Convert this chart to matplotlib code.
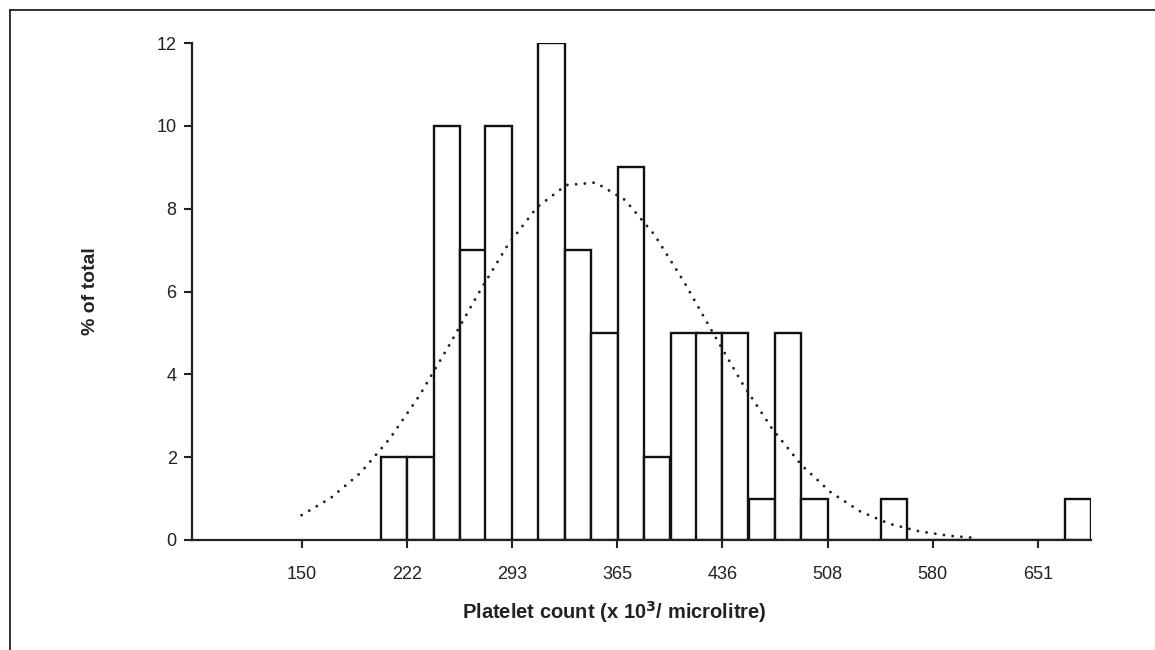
import matplotlib
matplotlib.use("Agg")
import matplotlib.pyplot as plt
from matplotlib.lines import Line2D

# ---- data ----
bin_lefts = [204, 222, 240, 258, 275, 293, 311, 329, 347, 365, 383, 401, 418,
             436, 454, 472, 490, 508, 526, 544, 562, 580, 597, 615, 633, 651, 669]
bin_width = 17.9
pct_of_total = [2, 2, 10, 7, 10, 0, 12, 7, 5, 9, 2, 5, 5,
                5, 1, 5, 1, 0, 0, 1, 0, 0, 0, 0, 0, 0, 1]

curve_x = [150, 170, 190, 210, 230, 250, 270, 290, 310, 330, 350, 370,
           390, 410, 430, 450, 470, 490, 510, 530, 550, 570, 590, 605]
curve_y = [0.60, 1.02, 1.62, 2.45, 3.48, 4.68, 5.94, 7.11, 8.03, 8.57, 8.63, 8.21,
           7.37, 6.24, 4.99, 3.77, 2.69, 1.81, 1.15, 0.69, 0.39, 0.21, 0.105, 0.06]

xtick_pos = [150, 221.6, 293.1, 364.7, 436.3, 507.9, 579.4, 651]
xtick_labels = ["150", "222", "293", "365", "436", "508", "580", "651"]
ytick_vals = [0, 2, 4, 6, 8, 10, 12]

plt.rcParams['font.family'] = ['Liberation Sans', 'DejaVu Sans']

fig = plt.figure(figsize=(11.55, 6.5), dpi=100)
ax = fig.add_axes([192/1155, 1 - 540/650, (1091 - 192)/1155, (540 - 43)/650])

ax.bar(bin_lefts, pct_of_total, width=bin_width, align='edge',
       facecolor='white', edgecolor='#111111', linewidth=1.7, zorder=2)
ax.plot(curve_x, curve_y, color='#222222', linewidth=2.1,
        linestyle=(0, (0.01, 3.0)), dash_capstyle='round', zorder=3)

ax.set_xlim(75.4, 687)
ax.set_ylim(0, 12)
ax.set_xticks(xtick_pos)
ax.set_xticklabels(xtick_labels)
ax.set_yticks(ytick_vals)
ax.set_yticklabels([str(v) for v in ytick_vals])

for s in ['top', 'right']:
    ax.spines[s].set_visible(False)
for s in ['left', 'bottom']:
    ax.spines[s].set_linewidth(1.6)
    ax.spines[s].set_color('#222222')

ax.tick_params(axis='x', direction='out', length=6, width=1.5, pad=13,
               labelsize=13, colors='#222222')
ax.tick_params(axis='y', direction='out', length=6, width=1.5, pad=5,
               labelsize=13, colors='#222222')

ax.set_ylabel('% of total', fontsize=14, fontweight='bold', color='#222222')
ax.yaxis.set_label_coords(-0.1035, 0.5)
ax.set_xlabel('Platelet count (x 10$^{\\mathbf{3}}$/ microlitre)', fontsize=14.5,
              fontweight='bold', color='#222222')
ax.xaxis.set_label_coords(0.47, -0.118)

# figure frame (left and top lines)
fig.add_artist(Line2D([10/1155, 10/1155], [0, 1 - 10/650], transform=fig.transFigure,
                      color='#222222', linewidth=1.3))
fig.add_artist(Line2D([10/1155, 1], [1 - 10/650, 1 - 10/650], transform=fig.transFigure,
                      color='#222222', linewidth=1.3))

fig.savefig('out.png', dpi=100, facecolor='white')
